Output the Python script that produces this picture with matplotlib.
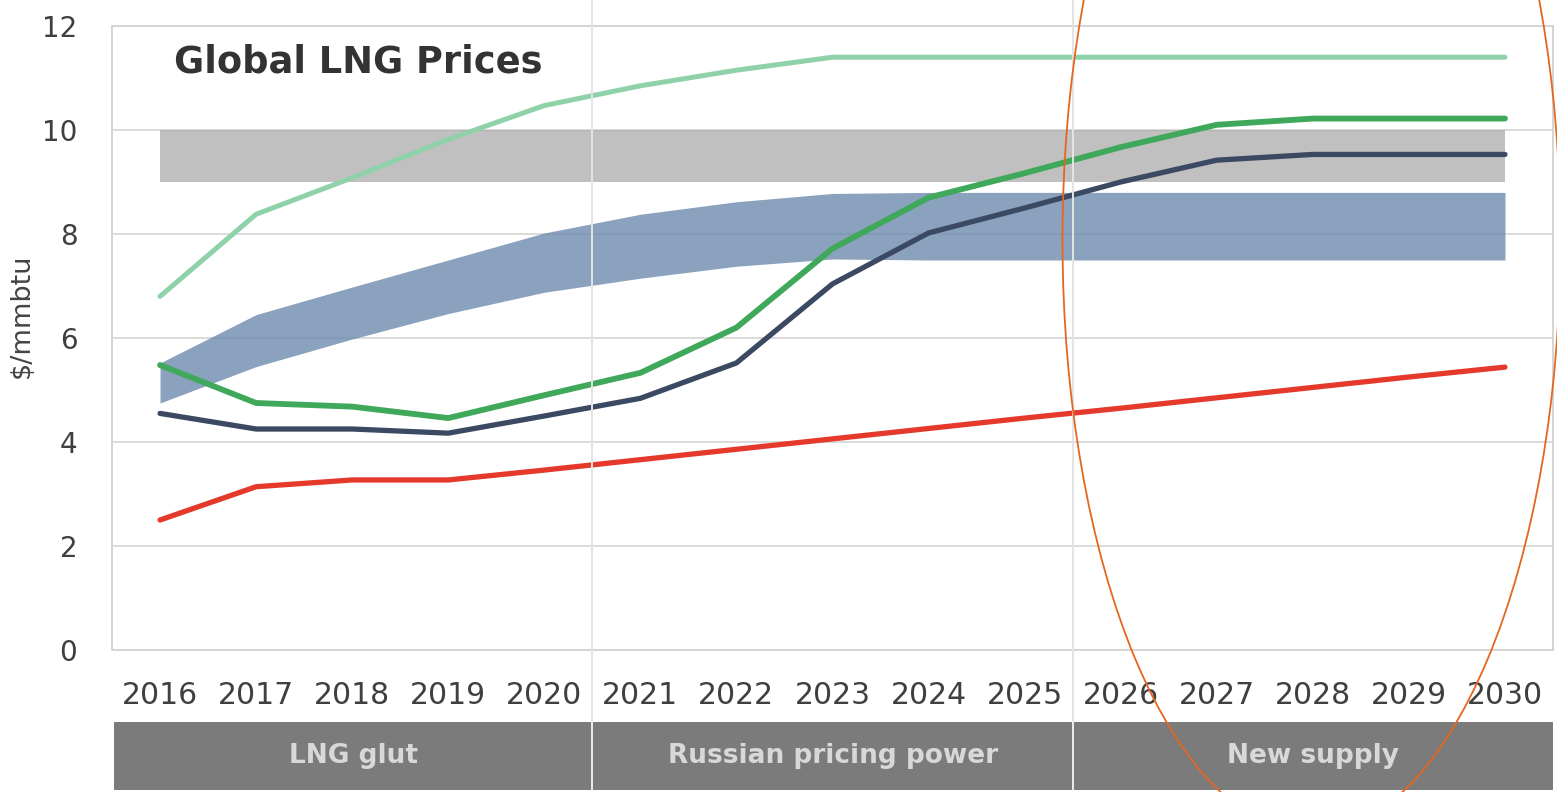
import matplotlib
matplotlib.use("Agg")
import matplotlib.pyplot as plt
import numpy as np
from matplotlib.patches import Ellipse, Rectangle
from matplotlib.lines import Line2D

# values ($/mmbtu)
years = list(range(2016, 2031))
upper_green = [6.8, 8.38, 9.08, 9.82, 10.47, 10.85, 11.15, 11.4, 11.4, 11.4, 11.4, 11.4, 11.4, 11.4, 11.4]
mid_green = [5.48, 4.75, 4.68, 4.46, 4.9, 5.33, 6.2, 7.72, 8.7, 9.17, 9.67, 10.1, 10.22, 10.22, 10.22]
navy = [4.55, 4.25, 4.25, 4.17, 4.5, 4.84, 5.52, 7.04, 8.02, 8.5, 9.0, 9.42, 9.53, 9.53, 9.53]
red = [2.5, 3.14, 3.27, 3.27, 3.46, 3.66, 3.86, 4.06, 4.26, 4.46, 4.65, 4.85, 5.05, 5.25, 5.44]
blue_hi = [5.52, 6.45, 6.98, 7.5, 8.02, 8.38, 8.62, 8.78, 8.8, 8.8, 8.8, 8.8, 8.8, 8.8, 8.8]
blue_lo = [4.75, 5.45, 5.98, 6.47, 6.88, 7.15, 7.38, 7.52, 7.5, 7.5, 7.5, 7.5, 7.5, 7.5, 7.5]
grey_lo = [9.0] * 15
grey_hi = [10.0] * 15
phases = ["LNG glut", "Russian pricing power", "New supply"]
phase_edges = [2015.5, 2020.5, 2025.5, 2030.5]
yticks = [0, 2, 4, 6, 8, 10, 12]

W, H = 1557, 792
fig = plt.figure(figsize=(W / 100, H / 100), dpi=100)
ax = fig.add_axes([112 / W, 1 - 650 / H, 1441 / W, 624 / H])

# bands
ax.fill_between(years, grey_lo, grey_hi, color="#9e9e9e", alpha=0.65, lw=0, zorder=1)
ax.fill_between(years, blue_lo, blue_hi, color="#6988ac", alpha=0.78, lw=0, zorder=1)

# lines
kw = dict(solid_capstyle="round", solid_joinstyle="round", zorder=3)
ax.plot(years, upper_green, color="#8fd2aa", lw=3.6, **kw)
ax.plot(years, red, color="#e5392b", lw=3.8, **kw)
ax.plot(years, navy, color="#3b4a62", lw=3.8, **kw)
ax.plot(years, mid_green, color="#3fa85a", lw=4.2, **kw)

ax.set_xlim(2015.5, 2030.5)
ax.set_ylim(0, 12)
ax.set_yticks(yticks)
ax.set_xticks(years)
ax.grid(axis="y", color="#dadada", lw=1.4, zorder=0)
ax.set_axisbelow(True)
for s in ax.spines.values():
    s.set_color("#d4d4d4")
    s.set_linewidth(1.4)
ax.tick_params(length=0, colors="#3f3f3f")
ax.tick_params(axis="x", labelsize=21.5, pad=22)
ax.tick_params(axis="y", labelsize=20, pad=25)

ax.text(2016.15, 11.3, "Global LNG Prices", fontsize=26.5, fontweight="bold",
        color="#333333", va="center", ha="left")
fig.text(22 / W, 1 - 316 / H, "$/mmbtu", rotation=90, fontsize=19.5,
         color="#444444", ha="center", va="center")

# phase bar below the axis
bar = fig.add_axes([114 / W, 2 / H, 1439 / W, 68 / H])
bar.set_xlim(2015.5, 2030.5)
bar.set_ylim(0, 1)
bar.axis("off")
for i, name in enumerate(phases):
    x0, x1 = phase_edges[i], phase_edges[i + 1]
    bar.add_patch(Rectangle((x0, 0), x1 - x0, 1, color="#7b7b7b", lw=0))
    bar.text((x0 + x1) / 2, 0.5, name, fontsize=19, color="#d8d8d8",
             ha="center", va="center", fontweight="bold")

# phase separators through the whole figure
for e in phase_edges[1:-1]:
    xf = ax.transData.transform((e, 0))[0] / W
    fig.add_artist(Line2D([xf, xf], [70 / H, 1], transform=fig.transFigure,
                          color="#e4e4e4", lw=1.4, zorder=0.5))
    fig.add_artist(Line2D([xf, xf], [2 / H, 70 / H], transform=fig.transFigure,
                          color="#ededed", lw=1.4, zorder=5))

# hand-drawn orange ellipse
fig.add_artist(Ellipse((1311.5 / W, 1 - 240 / H), 498 / W, 1186 / H,
                       transform=fig.transFigure, fill=False,
                       edgecolor="#e5661f", lw=1.3, zorder=10))

fig.savefig("out.png", dpi=100)
